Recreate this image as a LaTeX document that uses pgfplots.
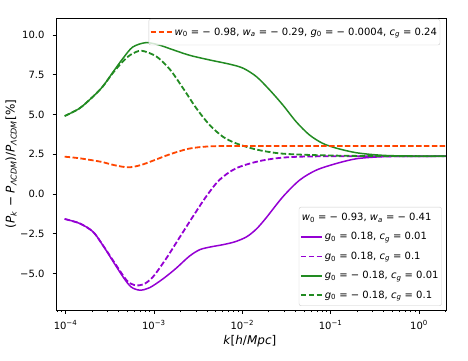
\documentclass[border=0pt]{standalone}
\usepackage{fontspec}
\setmainfont{DejaVu Sans}
\usepackage{pgfplots}
\usepackage{pgfplotstable}
\pgfplotsset{compat=1.18}

\definecolor{cviolet}{RGB}{148,0,211}
\definecolor{cgreen}{RGB}{34,139,34}
\definecolor{corange}{RGB}{255,69,0}

% lk = log10(k), v = relative difference in %
\pgfplotstableread{
lk v
-4.01 2.35
-3.84 2.25
-3.60 2.03
-3.45 1.82
-3.29 1.68
-3.15 1.82
-3.00 2.12
-2.82 2.50
-2.60 2.86
-2.37 3.00
-2.10 3.02
-1.00 3.02
0.31 3.02
}\tabOrange

\pgfplotstableread{
lk v
-4.01 -1.57
-3.84 -1.85
-3.69 -2.37
-3.58 -3.21
-3.46 -4.26
-3.35 -5.21
-3.26 -5.84
-3.16 -6.05
-3.05 -5.90
-2.90 -5.35
-2.75 -4.68
-2.60 -3.92
-2.48 -3.50
-2.35 -3.32
-2.22 -3.19
-2.08 -3.00
-1.95 -2.69
-1.84 -2.20
-1.73 -1.50
-1.54 -0.17
-1.35 0.88
-1.16 1.51
-0.93 1.93
-0.71 2.22
-0.45 2.34
-0.20 2.37
0.31 2.38
}\tabVsolid

\pgfplotstableread{
lk v
-4.01 -1.57
-3.84 -1.85
-3.69 -2.37
-3.58 -3.20
-3.46 -4.20
-3.31 -5.42
-3.22 -5.73
-3.12 -5.69
-3.01 -5.21
-2.86 -4.05
-2.71 -2.74
-2.56 -1.43
-2.41 -0.17
-2.26 0.88
-2.07 1.62
-1.80 2.08
-1.50 2.31
-1.01 2.38
0.31 2.38
}\tabVdash

\pgfplotstableread{
lk v
-4.01 4.91
-3.84 5.40
-3.69 6.13
-3.58 6.76
-3.46 7.70
-3.35 8.54
-3.24 9.25
-3.09 9.53
-2.94 9.38
-2.82 9.15
-2.60 8.74
-2.37 8.44
-2.14 8.17
-1.99 7.92
-1.84 7.39
-1.69 6.55
-1.54 5.60
-1.39 4.55
-1.24 3.72
-1.09 3.19
-0.93 2.88
-0.71 2.60
-0.45 2.45
-0.20 2.40
0.31 2.38
}\tabGsolid

\pgfplotstableread{
lk v
-4.01 4.91
-3.84 5.40
-3.69 6.13
-3.58 6.76
-3.46 7.65
-3.35 8.35
-3.26 8.78
-3.14 9.02
-2.97 8.65
-2.82 7.85
-2.67 6.66
-2.52 5.40
-2.37 4.35
-2.22 3.61
-2.07 3.19
-1.84 2.80
-1.58 2.56
-1.24 2.46
-0.71 2.40
0.31 2.38
}\tabGdash

\begin{document}
\begin{tikzpicture}
\begin{axis}[
  width=390pt, height=292pt, scale only axis,
  xmode=log, xmin=7.8e-5, xmax=2.02,
  ymin=-7.3, ymax=11.08,
  legend cell align=left,
  legend image code/.code={\draw[#1] (0pt,0pt) -- (21pt,0pt);},
  axis line style={line width=0.8pt},
  tick style={line width=0.8pt, black},
  tick align=outside, tick pos=left,
  major tick length=3.5pt, minor tick length=2pt,
  xtick={1e-4,1e-3,1e-2,1e-1,1},
  xticklabels={10\textsuperscript{−4},10\textsuperscript{−3},10\textsuperscript{−2},10\textsuperscript{−1},10\textsuperscript{0}},
  minor xtick={8e-5,9e-5,2e-4,3e-4,4e-4,5e-4,6e-4,7e-4,8e-4,9e-4,
    2e-3,3e-3,4e-3,5e-3,6e-3,7e-3,8e-3,9e-3,
    2e-2,3e-2,4e-2,5e-2,6e-2,7e-2,8e-2,9e-2,
    2e-1,3e-1,4e-1,5e-1,6e-1,7e-1,8e-1,9e-1,2},
  ytick={-5,-2.5,0,2.5,5,7.5,10},
  yticklabels={−5.0,−2.5,0.0,2.5,5.0,7.5,10.0},
  ticklabel style={font=\fontsize{10}{12}\selectfont},
  xticklabel style={yshift=-3.5pt},
  yticklabel style={xshift=-4.5pt},
  xlabel={\textit{k}[\textit{h}/\textit{Mpc}]},
  ylabel={(\textit{P}\textsubscript{\textit{k}} − \textit{P}\textsubscript{\textit{ΛCDM}})/\textit{P}\textsubscript{\textit{ΛCDM}}[\%]},
  label style={font=\fontsize{12}{14}\selectfont},
  x label style={at={(axis description cs:0.497,0)}, anchor=center, yshift=-31pt},
  y label style={at={(axis description cs:-0.115,0.5)}, anchor=center},
  legend style={draw=black!20, rounded corners=2pt, fill=white, fill opacity=0.8,
    text opacity=1, font=\fontsize{10}{12}\selectfont,
    inner xsep=1pt, inner ysep=4pt, row sep=6.5pt, at={(0.989,0.014)}, anchor=south east},
]
\addlegendimage{empty legend}
\addlegendentry{\hspace{-23pt}\textit{w}\textsubscript{0} = − 0.93, \textit{w}\textsubscript{\textit{a}} = − 0.41}
\addplot[cviolet, line width=1.5pt, smooth, mark=none] table[x expr={10^(\thisrow{lk})}, y=v] {\tabVsolid};
\addlegendentry{\textit{g}\textsubscript{0} = 0.18, \textit{c}\textsubscript{\textit{g}} = 0.01}
\addplot[cviolet, line width=1.8pt, dash pattern=on 5.5pt off 2.4pt, smooth, mark=none] table[x expr={10^(\thisrow{lk})}, y=v] {\tabVdash};
\addlegendentry{\textit{g}\textsubscript{0} = 0.18, \textit{c}\textsubscript{\textit{g}} = 0.1}
\addplot[cgreen, line width=1.5pt, smooth, mark=none] table[x expr={10^(\thisrow{lk})}, y=v] {\tabGsolid};
\addlegendentry{\textit{g}\textsubscript{0} = − 0.18, \textit{c}\textsubscript{\textit{g}} = 0.01}
\addplot[cgreen, line width=1.8pt, dash pattern=on 5.5pt off 2.4pt, smooth, mark=none] table[x expr={10^(\thisrow{lk})}, y=v] {\tabGdash};
\addlegendentry{\textit{g}\textsubscript{0} = − 0.18, \textit{c}\textsubscript{\textit{g}} = 0.1}
\end{axis}
\begin{axis}[
  width=390pt, height=292pt, scale only axis,
  xmode=log, xmin=7.8e-5, xmax=2.02,
  ymin=-7.3, ymax=11.08,
  hide axis,
  legend cell align=left,
  legend image code/.code={\draw[#1] (0pt,0pt) -- (21pt,0pt);},
  legend style={draw=black!20, rounded corners=2pt, fill=white, fill opacity=0.8,
    text opacity=1, font=\fontsize{10}{12}\selectfont,
    inner xsep=1pt, inner ysep=6.5pt, at={(0.985,0.997)}, anchor=north east},
]
\addplot[corange, line width=1.8pt, dash pattern=on 5.5pt off 2.4pt, smooth, mark=none] table[x expr={10^(\thisrow{lk})}, y=v] {\tabOrange};
\addlegendentry{\textit{w}\textsubscript{0} = − 0.98, \textit{w}\textsubscript{\textit{a}} = − 0.29, \textit{g}\textsubscript{0} = − 0.0004, \textit{c}\textsubscript{\textit{g}} = 0.24}
\end{axis}
\pgfresetboundingbox
\path (-56pt,-50pt) rectangle (412pt,310pt);
\end{tikzpicture}
\end{document}
